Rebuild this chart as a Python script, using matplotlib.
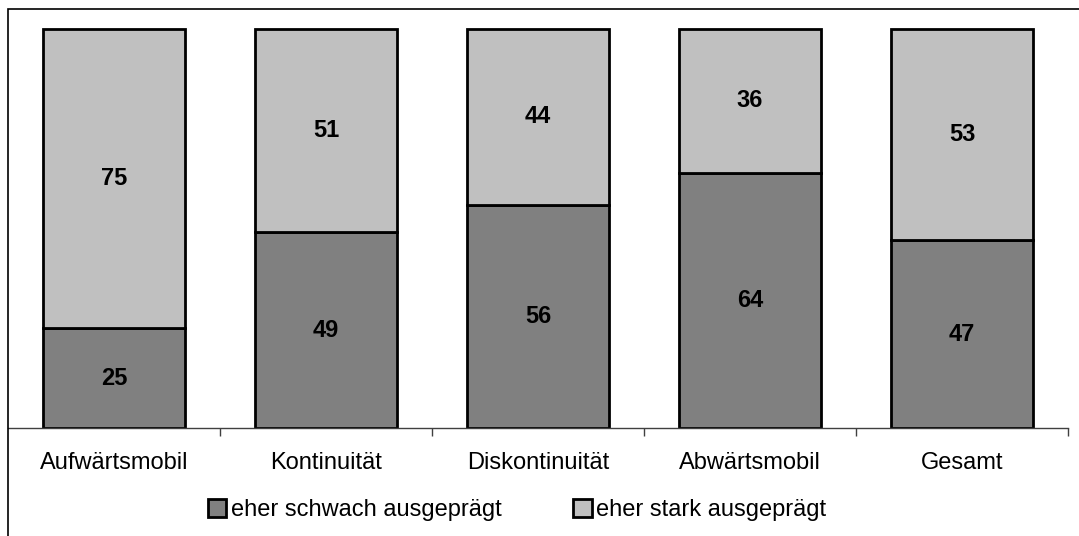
import matplotlib.pyplot as plt
import numpy as np
from matplotlib.patches import Rectangle

plt.rcParams['font.family'] = ['Liberation Sans', 'DejaVu Sans']

categories = ["Aufwärtsmobil", "Kontinuität", "Diskontinuität", "Abwärtsmobil", "Gesamt"]
schwach = [25, 49, 56, 64, 47]
stark = [75, 51, 44, 36, 53]

fig = plt.figure(figsize=(10.79, 5.36), dpi=100)
W, H = 1079, 536

# frame around the chart (runs off the right/bottom edge)
fig.patches.append(Rectangle((8 / W, -0.1), 1.2, (536 - 9) / H + 0.1,
                             transform=fig.transFigure, fill=False,
                             edgecolor='black', linewidth=1.2))

ax = fig.add_axes([8 / W, (536 - 428) / H, (1068 - 8) / W, (428 - 9) / H])
x = np.arange(len(categories))
width = 0.67

b1 = ax.bar(x, schwach, width, color='#808080', edgecolor='black', linewidth=2,
            label='eher schwach ausgeprägt')
b2 = ax.bar(x, stark, width, bottom=schwach, color='#c0c0c0', edgecolor='black',
            linewidth=2, label='eher stark ausgeprägt')

for i in range(len(categories)):
    ax.text(x[i], schwach[i] / 2, str(schwach[i]), ha='center', va='center',
            fontsize=17, fontweight='bold')
    ax.text(x[i], schwach[i] + stark[i] / 2, str(stark[i]), ha='center', va='center',
            fontsize=17, fontweight='bold')

ax.set_xlim(-0.5, len(categories) - 0.5)
ax.set_ylim(0, 100 * 419 / 399)

for s in ['top', 'right', 'left']:
    ax.spines[s].set_visible(False)
ax.spines['bottom'].set_color('#404040')
ax.spines['bottom'].set_linewidth(1)

ax.set_yticks([])
ax.set_xticks(x)
ax.set_xticklabels(categories, fontsize=17)
ax.tick_params(axis='x', which='major', length=0, pad=17)
ax.set_xticks(np.arange(0.5, len(categories), 1.0), minor=True)
ax.tick_params(axis='x', which='minor', length=6, width=1, color='#404040', direction='out')

fig.legend(handles=[b1, b2], loc='center', bbox_to_anchor=(517 / W, (536 - 510) / H),
           ncol=2, frameon=False, fontsize=17, handlelength=0.8, handleheight=0.8,
           handletextpad=0.2, columnspacing=3.0)

fig.savefig('out.png', dpi=100)
